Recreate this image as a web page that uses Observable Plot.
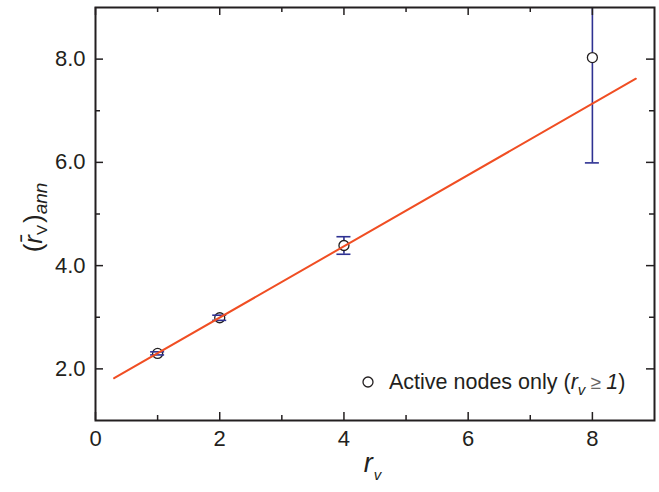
<!DOCTYPE html>
<html>
<head>
<meta charset="utf-8">
<script src="https://cdn.jsdelivr.net/npm/d3@7"></script>
<script src="https://cdn.jsdelivr.net/npm/@observablehq/plot@0.6"></script>
<style>
  html, body { margin: 0; padding: 0; background: #fff; }
  #chart { width: 659px; height: 492px; }
</style>
</head>
<body>
<div id="chart"></div>
<script>
// Data
const rv = [1, 2, 4, 8];
const annMean = [2.30, 2.99, 4.39, 8.03];
const annErr = [0.03, 0.05, 0.17, 2.04];
const fitX = [0.3, 8.7];
const fitY = [1.82, 7.62];
const xDomain = [0, 9];
const yDomain = [1, 9];
const xMajorTicks = [0, 2, 4, 6, 8];
const xMinorTicks = [1, 3, 5, 7];
const yMajorTicks = [2, 4, 6, 8];
const yMinorTicks = [3, 5, 7];
const legendLabel = "Active nodes only";

const points = rv.map((x, i) => ({x, y: annMean[i], lo: annMean[i] - annErr[i], hi: annMean[i] + annErr[i]}));
const fit = fitX.map((x, i) => ({x, y: fitY[i]}));

const FONT = "'Liberation Sans', Arial, Helvetica, sans-serif";
const INK = "#231f20";
const BLUE = "#2e3192";
const ORANGE = "#f04e23";
const MAJ = 8, MIN = 5;

// inward tick marks on all four sides, as zero-length rules extended by negative insets
function xTicks(values, len) {
  return [
    Plot.ruleX(values, {x: d => d, y1: yDomain[0], y2: yDomain[0], insetTop: -len, insetBottom: 0, stroke: INK, strokeWidth: 1.5}),
    Plot.ruleX(values, {x: d => d, y1: yDomain[1], y2: yDomain[1], insetBottom: -len, insetTop: 0, stroke: INK, strokeWidth: 1.5})
  ];
}
function yTicks(values, len) {
  return [
    Plot.ruleY(values, {y: d => d, x1: xDomain[0], x2: xDomain[0], insetRight: -len, insetLeft: 0, stroke: INK, strokeWidth: 1.5}),
    Plot.ruleY(values, {y: d => d, x1: xDomain[1], x2: xDomain[1], insetLeft: -len, insetRight: 0, stroke: INK, strokeWidth: 1.5})
  ];
}

const svg = Plot.plot({
  width: 659,
  height: 492,
  marginLeft: 95,
  marginRight: 5,
  marginTop: 7,
  marginBottom: 72,
  x: {domain: xDomain},
  y: {domain: yDomain},
  style: {fontFamily: FONT, background: "#fff", color: INK},
  marks: [
    // error bars
    Plot.ruleX(points, {x: "x", y1: "lo", y2: "hi", stroke: BLUE, strokeWidth: 1.6, clip: true}),
    Plot.dot(points, {x: "x", y: "y", r: 5, fill: "#fff", stroke: INK, strokeWidth: 1.3}),
    Plot.ruleY(points, {y: "lo", x1: "x", x2: "x", insetLeft: -7, insetRight: -7, stroke: BLUE, strokeWidth: 1.6, clip: true}),
    Plot.ruleY(points, {y: "hi", x1: "x", x2: "x", insetLeft: -7, insetRight: -7, stroke: BLUE, strokeWidth: 1.6, clip: true}),
    // fit line
    Plot.line(fit, {x: "x", y: "y", stroke: ORANGE, strokeWidth: 2}),
    // tick labels
    Plot.axisX({ticks: xMajorTicks, tickSize: 0, tickPadding: 10, fontSize: 22, label: null, fill: INK}),
    Plot.axisY({ticks: yMajorTicks, tickSize: 0, tickPadding: 10, fontSize: 22, label: null, fill: INK, tickFormat: d3.format(".1f")}),
    // inward ticks
    ...xTicks(xMajorTicks, MAJ),
    ...xTicks(xMinorTicks, MIN),
    ...yTicks(yMajorTicks, MAJ),
    ...yTicks(yMinorTicks, MIN),
    Plot.frame({stroke: INK, strokeWidth: 2})
  ]
});

document.getElementById("chart").appendChild(svg);

// Axis titles and legend with italic / subscript parts
const s = d3.select(svg);
const plotLeft = 95, plotRight = 659 - 5, plotTop = 7, plotBottom = 492 - 72;
const midX = (plotLeft + plotRight) / 2, midY = (plotTop + plotBottom) / 2;

// x title: r_v
const xt = s.append("text")
  .attr("x", midX - 2).attr("y", 472)
  .attr("text-anchor", "middle")
  .attr("font-family", FONT).attr("fill", INK);
xt.append("tspan").attr("font-style", "italic").attr("font-size", 27).text("r");
xt.append("tspan").attr("font-style", "italic").attr("font-size", 15).attr("dy", 8).attr("dx", 1).text("v");

// y title: (r̄_v)_ann
const yt = s.append("text")
  .attr("transform", `translate(42,${midY + 4}) rotate(-90)`)
  .attr("text-anchor", "middle")
  .attr("font-family", FONT).attr("fill", INK);
yt.append("tspan").attr("font-size", 26).text("(");
yt.append("tspan").attr("font-size", 26).attr("font-style", "italic").text("r\u0304");
yt.append("tspan").attr("font-size", 15).attr("dy", 5).text("V");
yt.append("tspan").attr("font-size", 26).attr("dy", -5).attr("dx", 2).text(")");
yt.append("tspan").attr("font-size", 19).attr("font-style", "italic").attr("dy", 5).text("ann");

// legend
s.append("circle").attr("cx", 368).attr("cy", 382).attr("r", 5)
  .attr("fill", "#fff").attr("stroke", INK).attr("stroke-width", 1.3);
const lt = s.append("text")
  .attr("x", 389).attr("y", 389)
  .attr("text-anchor", "start")
  .attr("font-family", FONT).attr("font-size", 21.5).attr("fill", INK);
lt.append("tspan").text(legendLabel + " (");
lt.append("tspan").attr("font-style", "italic").text("r");
lt.append("tspan").attr("font-style", "italic").attr("font-size", 15).attr("dy", 6).text("v");
lt.append("tspan").attr("dy", -6).attr("fill", "#666").attr("font-size", 19).text(" \u2265 ");
lt.append("tspan").attr("font-style", "italic").text("1");
lt.append("tspan").text(")");
</script>
</body>
</html>
